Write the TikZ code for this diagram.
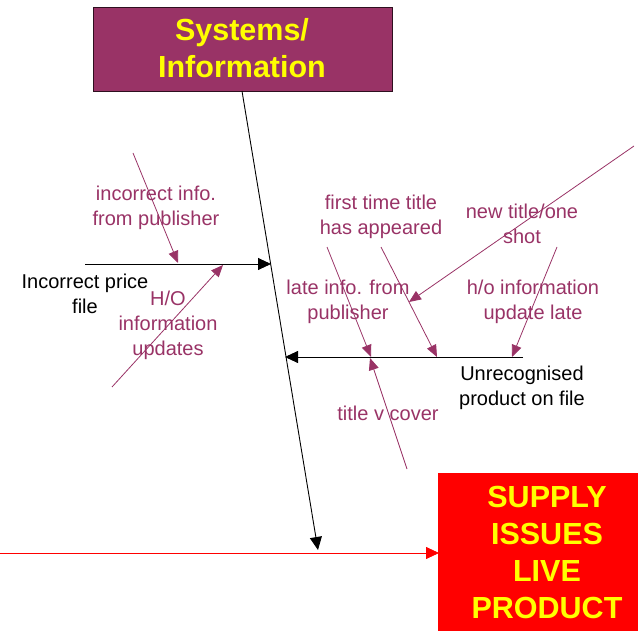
\documentclass[tikz,border=0pt]{standalone}
\usepackage{fontspec}
\setmainfont{Liberation Sans}
\usetikzlibrary{arrows.meta}
\definecolor{plum}{HTML}{993366}
\definecolor{sunyellow}{HTML}{FFFF00}
\begin{document}
\begin{tikzpicture}[x=1pt,y=-1pt,
  cause/.style={draw=plum,line width=0.8pt,-{Triangle[length=12pt,width=10pt]}},
  branch/.style={draw=black,line width=0.9pt,-{Triangle[length=13pt,width=12pt]}},
  causetext/.style={text=plum,align=center,font=\fontsize{20}{25}\selectfont,inner sep=0pt},
  branchtext/.style={text=black,align=center,font=\fontsize{20}{25}\selectfont,inner sep=0pt},
  headbox/.style={text=sunyellow,align=center,font=\fontsize{30.5}{37}\selectfont\bfseries,inner sep=0pt}]
\useasboundingbox (0,0) rectangle (643,631);

% category box and effect box
\fill[plum] (93,7) rectangle (392,91);
\draw[black!70!plum,line width=0.8pt] (93,7) rectangle (392,91);
\node[headbox] (cat) at (242,48) {Systems/\\Information};
\fill[red] (438,473) rectangle (638,631);
\node[headbox] (effect) at (547,552) {SUPPLY\\ISSUES\\LIVE\\PRODUCT};

% main spine and effect line
\coordinate (spinetop) at (242,91);
\coordinate (spinebot) at (318,550);
\coordinate (fishtail) at (0,553);
\coordinate (fishhead) at (439,553);
\draw[branch] (spinetop) -- (spinebot);
\draw[draw=red,line width=0.8pt,-{Triangle[length=13pt,width=12pt]},red] (fishtail) -- (fishhead);

% branch: incorrect price file
\coordinate (pricestart) at (85,264);
\coordinate (priceend) at (271,264);
\draw[branch] (pricestart) -- (priceend);
\node[branchtext] (pricetext) at (85,294) {Incorrect price\\file};

\coordinate (infoA) at (133,153);
\coordinate (infoB) at (178,263);
\draw[cause] (infoA) -- (infoB);
\node[causetext] (infotext) at (156,208) {incorrect info.\\from publisher};

\coordinate (hoA) at (112,387);
\coordinate (hoB) at (223,265);
\draw[cause] (hoA) -- (hoB);
\node[causetext] (hotext) at (168,325) {H/O\\information\\updates};

% branch: unrecognised product on file
\coordinate (unrecstart) at (523,357);
\coordinate (unrecend) at (285,357);
\draw[branch] (unrecstart) -- (unrecend);
\node[branchtext] (unrectext) at (522,388) {Unrecognised\\product on file};

\coordinate (lateA) at (327,247);
\coordinate (lateB) at (371,357);
\draw[cause] (lateA) -- (lateB);
\node[causetext] (latetext) at (348,302) {late info. from\\publisher};

\coordinate (firstA) at (381,247);
\coordinate (firstB) at (437,357);
\draw[cause] (firstA) -- (firstB);
\node[causetext] (firsttext) at (381,217) {first time title\\has appeared};

\coordinate (updA) at (557,247);
\coordinate (updB) at (512,357);
\draw[cause] (updA) -- (updB);
\node[causetext] (updtext) at (533,302) {h/o information\\update late};

\coordinate (newA) at (634,146);
\coordinate (newB) at (409,302);
\draw[cause] (newA) -- (newB);
\node[causetext] (newtext) at (522,224) {new title/one\\shot};

\coordinate (coverA) at (407,469);
\coordinate (coverB) at (370,358);
\draw[cause] (coverA) -- (coverB);
\node[causetext] (covertext) at (388,413) {title v cover};
\end{tikzpicture}
\end{document}
